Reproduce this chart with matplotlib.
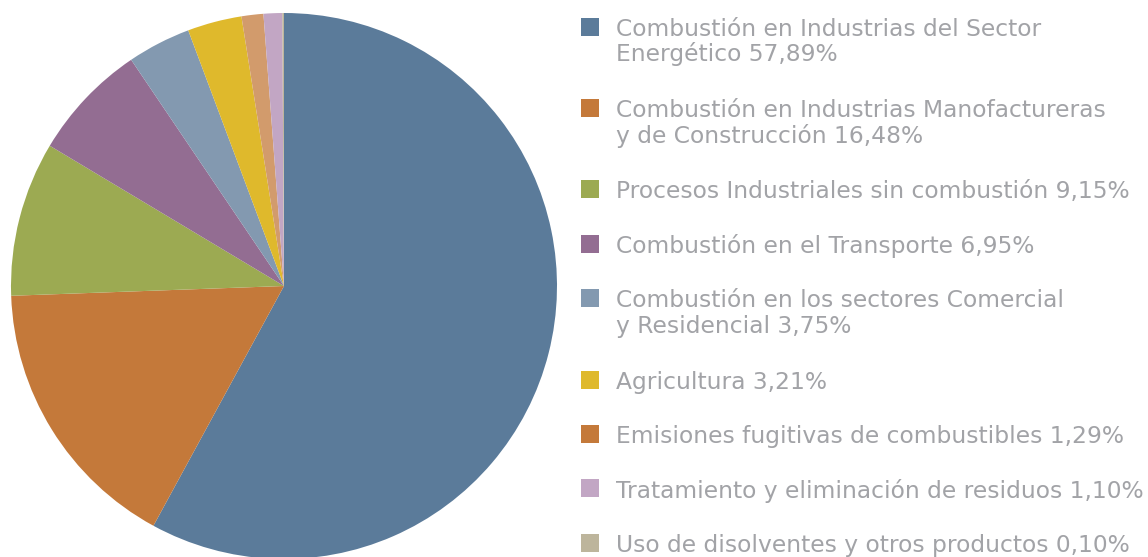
import matplotlib
matplotlib.use("Agg")
import matplotlib.pyplot as plt
from matplotlib.patches import Rectangle

labels = [
    "Combustión en Industrias del Sector\nEnergético 57,89%",
    "Combustión en Industrias Manofactureras\ny de Construcción 16,48%",
    "Procesos Industriales sin combustión 9,15%",
    "Combustión en el Transporte 6,95%",
    "Combustión en los sectores Comercial\ny Residencial 3,75%",
    "Agricultura 3,21%",
    "Emisiones fugitivas de combustibles 1,29%",
    "Tratamiento y eliminación de residuos 1,10%",
    "Uso de disolventes y otros productos 0,10%",
]
values = [57.89, 16.48, 9.15, 6.95, 3.75, 3.21, 1.29, 1.10, 0.10]
slice_colors = ["#5b7b9a", "#c4793a", "#9caa52", "#936d92", "#8399b0",
                "#dfb92c", "#d29b6c", "#c2a6c4", "#bdb59c"]
legend_colors = ["#5b7b9a", "#c4793a", "#9caa52", "#936d92", "#8399b0",
                 "#dfb92c", "#c4793a", "#c2a6c4", "#bdb59c"]

W, H = 1148, 557
fig = plt.figure(figsize=(W / 100, H / 100), dpi=100)
fig.patch.set_facecolor("white")

cx, cy, r = 284, 286, 273
ax = fig.add_axes([(cx - r) / W, (H - cy - r) / H, 2 * r / W, 2 * r / H])
ax.pie(values, colors=slice_colors, startangle=90, counterclock=False,
       radius=1, wedgeprops=dict(linewidth=0))
ax.set_xlim(-1, 1)
ax.set_ylim(-1, 1)
ax.set_aspect("equal")
ax.axis("off")

text_color = "#a2a3a7"
fs = 16.8
fam = "DejaVu Sans"
y = 26.5
for lab, col in zip(labels, legend_colors):
    fig.patches.append(Rectangle((581 / W, (H - y - 9) / H), 18 / W, 18 / H,
                                 transform=fig.transFigure, facecolor=col,
                                 edgecolor="none"))
    for k, line in enumerate(lab.split("\n")):
        fig.text(616 / W, (H - y - 25.5 * k) / H, line, color=text_color,
                 fontsize=fs, family=fam, va="center_baseline", ha="left")
    y += 54.4 + 27 * lab.count("\n")

fig.savefig("out.png", dpi=100, facecolor="white")
